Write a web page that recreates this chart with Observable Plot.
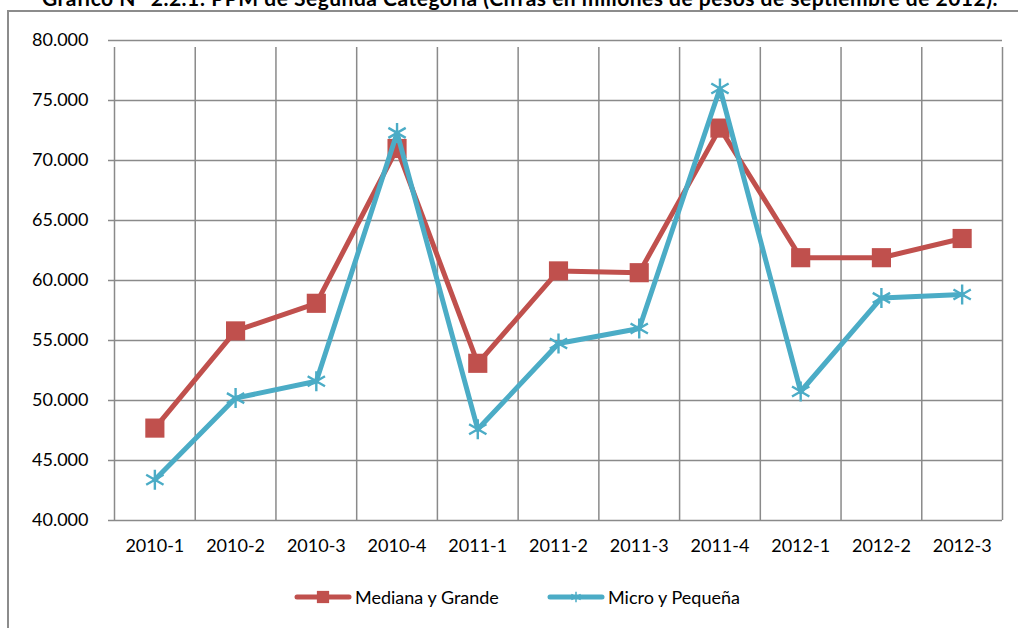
<!DOCTYPE html>
<html>
<head>
<meta charset="utf-8">
<script src="https://cdn.jsdelivr.net/npm/d3@7"></script>
<script src="https://cdn.jsdelivr.net/npm/@observablehq/plot@0.6"></script>
<style>
  html, body { margin: 0; padding: 0; background: #fff; }
  #wrap { position: relative; width: 1018px; height: 628px; overflow: hidden; font-family: Lato, "Open Sans", sans-serif; }
  #title { position: absolute; top: -13px; left: 11px; width: 1018px; text-align: center; font-weight: bold; font-size: 21px; line-height: 21px; letter-spacing: 0.5px; white-space: nowrap; color: #000; }
  #box { position: absolute; left: 7px; top: 10px; width: 1100px; height: 700px; border: 2px solid #8c8c8c; box-sizing: border-box; }
  #chart { position: absolute; left: 0; top: 0; }
  #legend { position: absolute; top: 586px; left: 0; width: 1018px; font-size: 18px; color: #000; }
  .item { position: absolute; display: flex; align-items: center; white-space: nowrap; }
  .item svg { margin-right: 3px; }
</style>
</head>
<body>
<div id="wrap">
  <div id="box"></div>
  <div id="title"></div>
  <div id="chart"></div>
  <div id="legend"></div>
</div>
<script>
const titleText = "Gráfico N° 2.2.1: PPM de Segunda Categoría (Cifras en millones de pesos de  septiembre de 2012).";
const categories = ["2010-1","2010-2","2010-3","2010-4","2011-1","2011-2","2011-3","2011-4","2012-1","2012-2","2012-3"];
const medianaYGrande = [47700, 55800, 58100, 71000, 53100, 60800, 60650, 72700, 61900, 61900, 63500];
const microYPequena = [43400, 50200, 51600, 72300, 47600, 54750, 56000, 76000, 50750, 58550, 58830];
const yTicks = [40000, 45000, 50000, 55000, 60000, 65000, 70000, 75000, 80000];
const seriesNames = ["Mediana y Grande", "Micro y Pequeña"];
const colors = ["#C0504D", "#4BACC6"];

document.getElementById("title").textContent = titleText;

const idx = categories.map((c, i) => i);
const boundaries = d3.range(categories.length + 1).map(i => i - 0.5);
const red = categories.map((c, i) => ({i, v: medianaYGrande[i]}));
const blue = categories.map((c, i) => ({i, v: microYPequena[i]}));
const fmt = v => d3.format(",.0f")(v).replace(/,/g, ".");
const grid = "#8a8a8a";

const chart = Plot.plot({
  width: 1018,
  height: 570,
  marginLeft: 114,
  marginRight: 16,
  marginTop: 40,
  marginBottom: 50,
  style: {fontFamily: "Lato, 'Open Sans', sans-serif", fontSize: "18px", color: "#000", background: "transparent", overflow: "visible"},
  x: {type: "linear", domain: [-0.5, categories.length - 0.5], ticks: idx, tickFormat: i => categories[i], tickSize: 0, tickPadding: 19, label: null},
  y: {domain: [40000, 80000], ticks: yTicks, tickFormat: fmt, tickSize: 6, tickPadding: 20, label: null},
  marks: [
    Plot.ruleY(yTicks, {stroke: grid, strokeWidth: 1.5, strokeOpacity: 1}),
    Plot.ruleX(boundaries, {y1: 40000, y2: 80000, insetBottom: -7, stroke: grid, strokeWidth: 1.5, strokeOpacity: 1}),
    Plot.axisY({ticks: yTicks, tickFormat: fmt, tickSize: 6, tickPadding: 20, stroke: grid, strokeWidth: 1.5, strokeOpacity: 1, fill: "#000", label: null}),
    Plot.axisX({ticks: idx, tickFormat: i => categories[i], tickSize: 0, tickPadding: 19, fill: "#000", label: null}),
    Plot.line(red, {x: "i", y: "v", stroke: colors[0], strokeWidth: 5, strokeLinejoin: "round", strokeLinecap: "round"}),
    Plot.dot(red, {x: "i", y: "v", symbol: "square", r: 10.8, fill: colors[0], stroke: "none"}),
    Plot.line(blue, {x: "i", y: "v", stroke: colors[1], strokeWidth: 5, strokeLinejoin: "round", strokeLinecap: "round"}),
    Plot.dot(blue, {x: "i", y: "v", symbol: "asterisk", r: 9.5, stroke: colors[1], strokeWidth: 2.4})
  ]
});
document.getElementById("chart").appendChild(chart);

// legend
const legend = document.getElementById("legend");
const lefts = [294, 547];
seriesNames.forEach((name, k) => {
  const item = document.createElement("div");
  item.className = "item";
  item.style.left = lefts[k] + "px";
  const ns = "http://www.w3.org/2000/svg";
  const s = document.createElementNS(ns, "svg");
  s.setAttribute("width", 58); s.setAttribute("height", 22);
  const ln = document.createElementNS(ns, "line");
  ln.setAttribute("x1", 3); ln.setAttribute("x2", 55); ln.setAttribute("y1", 11); ln.setAttribute("y2", 11);
  ln.setAttribute("stroke", colors[k]); ln.setAttribute("stroke-width", 5); ln.setAttribute("stroke-linecap", "round");
  s.appendChild(ln);
  const p = document.createElementNS(ns, "path");
  if (k === 0) {
    p.setAttribute("d", d3.symbol(d3.symbolSquare, 150)());
    p.setAttribute("fill", colors[k]);
  } else {
    p.setAttribute("d", d3.symbol(d3.symbolAsterisk, 80)());
    p.setAttribute("fill", "none"); p.setAttribute("stroke", colors[k]); p.setAttribute("stroke-width", 1.5);
  }
  p.setAttribute("transform", "translate(29,11)");
  s.appendChild(p);
  item.appendChild(s);
  const t = document.createElement("span");
  t.textContent = name;
  item.appendChild(t);
  legend.appendChild(item);
});
</script>
</body>
</html>
